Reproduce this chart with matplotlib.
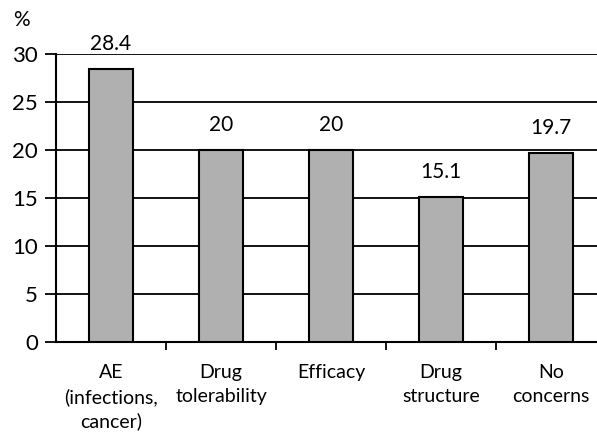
#!/usr/bin/env python

import numpy as np
import matplotlib
matplotlib.use('Agg')
import matplotlib.pyplot as plt

categories = ['AE\n(infections,\ncancer)', 'Drug\ntolerability', 'Efficacy',
              'Drug\nstructure', 'No\nconcerns']
percent = [28.4, 20, 20, 15.1, 19.7]
value_labels = ['28.4', '20', '20', '15.1', '19.7']
y_ticks = [0, 5, 10, 15, 20, 25, 30]

plt.rcParams['font.family'] = ['Lato', 'DejaVu Sans']

fig = plt.figure(figsize=(5.97, 4.32), dpi=100)
ax = fig.add_axes([56 / 597, 90 / 432, 550 / 597, 288 / 432])

x = np.arange(len(categories))
ax.bar(x, percent, width=0.4, color='#b0b0b0', edgecolor='black',
       linewidth=1.5, zorder=3)

for xi, v, lab in zip(x, percent, value_labels):
    ax.annotate(lab, (xi, v), xytext=(0, 11), textcoords='offset points',
                ha='center', va='bottom', fontsize=15)

ax.set_xlim(-0.5, 4.5)
ax.set_ylim(0, 30)
ax.set_yticks(y_ticks)
ax.yaxis.grid(True, color='black', linewidth=1.3, zorder=0)
ax.set_axisbelow(True)

ax.set_xticks(x)
ax.set_xticklabels(categories, fontsize=14, linespacing=1.45)
ax.set_xticks(np.arange(0.5, 4.5, 1), minor=True)
ax.tick_params(axis='x', which='major', length=0, pad=16)
ax.tick_params(axis='x', which='minor', length=6, width=1.3, direction='out')
ax.tick_params(axis='y', length=8, width=1.3, pad=5, labelsize=16)

for side in ['top', 'right']:
    ax.spines[side].set_visible(False)
for side in ['left', 'bottom']:
    ax.spines[side].set_linewidth(1.5)

fig.text(21 / 597, 1 - 20 / 432, '%', fontsize=15, ha='center', va='center')

plt.savefig('out.png')
